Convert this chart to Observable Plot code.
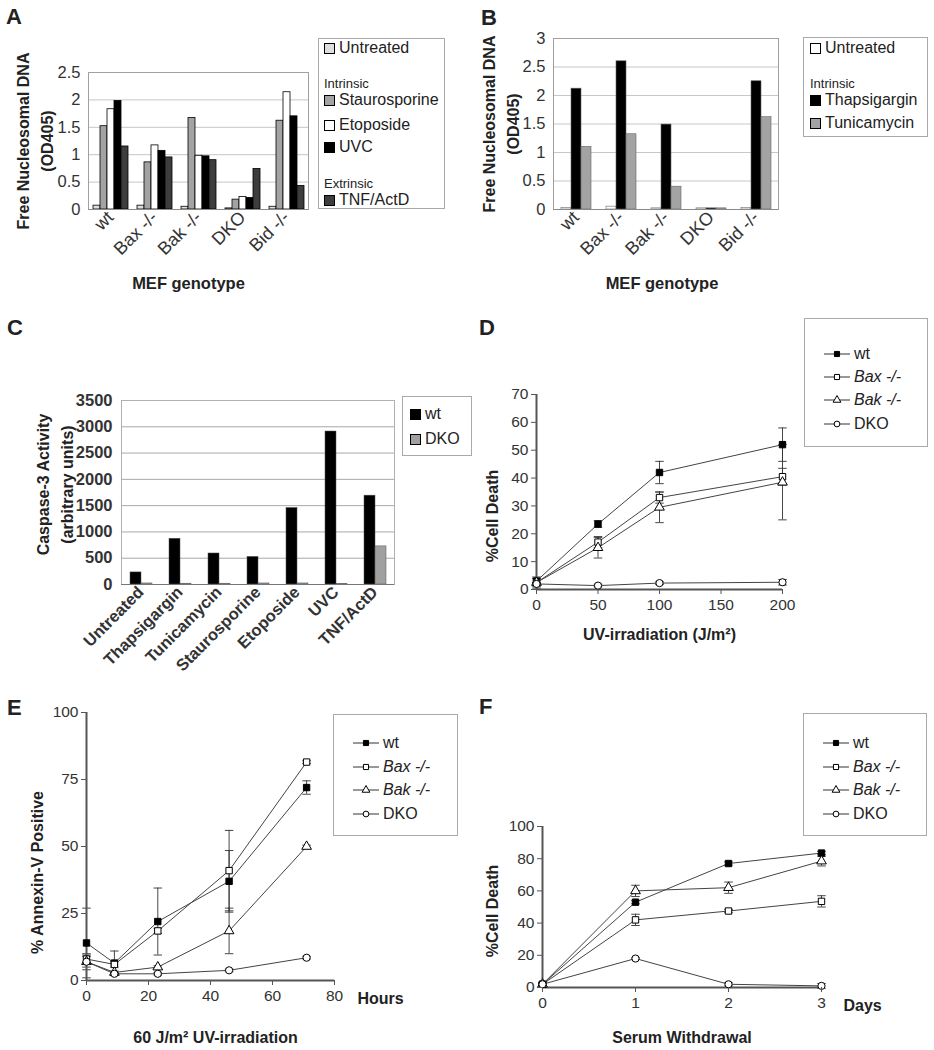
<!DOCTYPE html>
<html><head><meta charset="utf-8">
<script src="https://cdn.jsdelivr.net/npm/d3@7"></script>
<script src="https://cdn.jsdelivr.net/npm/@observablehq/plot@0.6"></script>
<style>
body{margin:0;background:#fff;font-family:"Liberation Sans",Arial,Helvetica,sans-serif;color:#222}
#fig{position:relative;width:934px;height:1050px;overflow:hidden;background:#fff}
.panel{position:absolute}
.panel svg{overflow:visible;background:none !important}
.plabel{position:absolute;font-weight:bold;font-size:22px;line-height:22px}
.legend{position:absolute;border:1px solid #aaa;background:#fff;box-sizing:border-box}
.legend .it{position:absolute;left:0;white-space:nowrap;display:flex;align-items:center;height:20px;font-size:16px}
.legend .hd{font-size:13px}
.legend .sw{display:inline-block;width:9px;height:9px;border:1px solid #000;margin-right:4px}
.legend svg{margin-right:3px}
.it.i{font-style:italic}
#pA g[aria-label="fx-axis tick label"] text:nth-child(2),
#pA g[aria-label="fx-axis tick label"] text:nth-child(3),
#pB g[aria-label="fx-axis tick label"] text:nth-child(2),
#pB g[aria-label="fx-axis tick label"] text:nth-child(3){font-style:italic}
</style>
</head><body>
<div id="fig"></div>
<script>
const FONT = '"Liberation Sans", Arial, Helvetica, sans-serif';

// ---------- Panel A data ----------
const genotypes = ["wt", "Bax -/-", "Bak -/-", "DKO", "Bid -/-"];
const aTreatments = ["Untreated", "Staurosporine", "Etoposide", "UVC", "TNF/ActD"];
const aColors = ["#dedede", "#a3a3a3", "#ffffff", "#000000", "#3d3d3d"];
const aUntreated = [0.07, 0.07, 0.05, 0.02, 0.05];
const aStauro    = [1.52, 0.86, 1.67, 0.18, 1.62];
const aEtop      = [1.83, 1.17, 0.98, 0.23, 2.14];
const aUVC       = [1.98, 1.07, 0.97, 0.21, 1.70];
const aTNF       = [1.15, 0.95, 0.90, 0.74, 0.43];
const aTicks = [0, 0.5, 1, 1.5, 2, 2.5];

// ---------- Panel B data ----------
const bTreatments = ["Untreated", "Thapsigargin", "Tunicamycin"];
const bColors = ["#ffffff", "#000000", "#a3a3a3"];
const bUntreated = [0.03, 0.05, 0.02, 0.02, 0.03];
const bThaps     = [2.12, 2.60, 1.49, 0.02, 2.25];
const bTunic     = [1.10, 1.32, 0.40, 0.02, 1.62];
const bTicks = [0, 0.5, 1, 1.5, 2, 2.5, 3];

// ---------- Panel C data ----------
const cTreatments = ["Untreated", "Thapsigargin", "Tunicamycin", "Staurosporine", "Etoposide", "UVC", "TNF/ActD"];
const cGenos = ["wt", "DKO"];
const cColors = ["#000000", "#a0a0a0"];
const cWt  = [230, 870, 590, 525, 1455, 2910, 1690];
const cDko = [20, 15, 15, 20, 20, 10, 725];
const cTicks = [0, 500, 1000, 1500, 2000, 2500, 3000, 3500];

// ---------- Line panels: series ----------
const lineSeries = ["wt", "Bax -/-", "Bak -/-", "DKO"];
const lineSymbols = ["square", "square", "triangle", "circle"];
const lineFills = ["#000000", "#ffffff", "#ffffff", "#ffffff"];

// Panel D
const dDose = [0, 50, 100, 200];
const dWt  = [3, 23.5, 42, 52];     const dWtErr  = [1, 1.2, 4, 6];
const dBax = [2.5, 17, 33, 40.5];   const dBaxErr = [2, 2, 2, 3];
const dBak = [2.5, 15, 29.5, 38.5]; const dBakErr = [1.5, 3.7, 5.5, 13.5];
const dDko = [2, 1.4, 2.3, 2.6];    const dDkoErr = [0.5, 0.5, 0.5, 1];
const dXTicks = [0, 50, 100, 150, 200];
const dYTicks = [0, 10, 20, 30, 40, 50, 60, 70];

// Panel E
const eHours = [0, 9, 23, 46, 71];
const eWt  = [14, 6.5, 22, 37, 72];   const eWtErr  = [13, 4.5, 12.5, 11.5, 2.5];
const eBax = [8, 6, 18.5, 41, 81.5];  const eBaxErr = [1.5, 1, 1, 15, 0.5];
const eBak = [7, 3, 5, 18.5, 50];     const eBakErr = [2, 0.5, 0.5, 8.5, 0.5];
const eDko = [7, 2.5, 2.5, 3.8, 8.5]; const eDkoErr = [3, 0.5, 0.5, 0.5, 0.5];
const eXTicks = [0, 20, 40, 60, 80];
const eYTicks = [0, 25, 50, 75, 100];

// Panel F
const fDays = [0, 1, 2, 3];
const fWt  = [2, 53, 77, 83.5];  const fWtErr  = [0.5, 1, 1, 1];
const fBax = [2, 42, 47.5, 53.5]; const fBaxErr = [1, 3.5, 1, 3.5];
const fBak = [2, 60, 62, 78.5];  const fBakErr = [1, 3.5, 3.5, 3];
const fDko = [2, 18, 2, 1];      const fDkoErr = [0.5, 0.5, 1, 1.5];
const fXTicks = [0, 1, 2, 3];
const fYTicks = [0, 20, 40, 60, 80, 100];

// ---------- helpers ----------
const fig = document.getElementById("fig");
function place(el, left, top, id) {
  const d = document.createElement("div");
  d.className = "panel"; d.style.left = left + "px"; d.style.top = top + "px";
  if (id) d.id = id;
  d.appendChild(el); fig.appendChild(d);
}
function panelLabel(t, left, top) {
  const d = document.createElement("div");
  d.className = "plabel"; d.textContent = t;
  d.style.left = left + "px"; d.style.top = top + "px";
  fig.appendChild(d);
}
function lineSample(sym, fill) {
  const types = {square: d3.symbolSquare, triangle: d3.symbolTriangle, circle: d3.symbolCircle};
  const s = d3.create("svg").attr("width", 28).attr("height", 12);
  s.append("line").attr("x1", 1).attr("x2", 27).attr("y1", 6).attr("y2", 6).attr("stroke", "#333");
  s.append("path").attr("transform", "translate(14,6)").attr("d", d3.symbol(types[sym], 26)())
    .attr("fill", fill).attr("stroke", "#000");
  return s.node();
}
function legend(left, top, w, h, items) {
  const box = document.createElement("div");
  box.className = "legend";
  Object.assign(box.style, {left: left + "px", top: top + "px", width: w + "px", height: h + "px"});
  for (const it of items) {
    const d = document.createElement("div");
    d.className = "it" + (it.italic ? " i" : "") + (it.head ? " hd" : "");
    d.style.top = (it.y - 10) + "px";
    d.style.left = (it.x ?? 5) + "px";
    if (it.color) {
      const sw = document.createElement("span"); sw.className = "sw"; sw.style.background = it.color;
      d.appendChild(sw);
    }
    if (it.sym) d.appendChild(lineSample(it.sym, it.fill));
    d.appendChild(document.createTextNode(it.label));
    box.appendChild(d);
  }
  fig.appendChild(box);
}
function rows(xs, ys, errs, name) {
  return xs.map((x, i) => ({x, y: ys[i], err: errs[i], series: name}));
}
const capSymbol = {draw(ctx, size) { const w = Math.sqrt(size) * 0.8; ctx.moveTo(-w, 0); ctx.lineTo(w, 0); }};
const titleOpts = {fontWeight: "bold", fontSize: 16, textAnchor: "middle", lineAnchor: "middle", fill: "#222", text: d => d};

function linePlot(cfg) {
  const data = cfg.data;
  return Plot.plot({
    width: cfg.width, height: cfg.height,
    marginLeft: cfg.ml, marginRight: cfg.mr, marginTop: cfg.mt, marginBottom: cfg.mb,
    style: {fontFamily: FONT, fontSize: "15px", color: "#333", background: "none"},
    x: {domain: cfg.xDomain},
    y: {domain: cfg.yDomain},
    color: {domain: lineSeries, range: lineFills},
    symbol: {domain: lineSeries, range: lineSymbols},
    marks: [
      Plot.ruleX(data, {x: "x", y1: d => d.y - d.err, y2: d => d.y + d.err, stroke: "#333", strokeWidth: 0.9}),
      Plot.dot(data, {x: "x", y: d => d.y + d.err, symbol: () => capSymbol, r: 3, stroke: "#333", strokeWidth: 0.9}),
      Plot.dot(data, {x: "x", y: d => d.y - d.err, symbol: () => capSymbol, r: 3, stroke: "#333", strokeWidth: 0.9}),
      Plot.line(data, {x: "x", y: "y", z: "series", stroke: "#444", strokeWidth: 1}),
      Plot.ruleY([cfg.yDomain[0]], {stroke: "#555", strokeWidth: 2}),
      Plot.ruleX([cfg.xDomain[0]], {stroke: "#555", strokeWidth: 2}),
      Plot.dot(data, {x: "x", y: "y", symbol: "series", fill: "series", stroke: "#000", strokeWidth: 1, r: 3.6}),
      Plot.axisX(cfg.xTicks, {tickSize: 5, tickPadding: 4, stroke: "#555", label: null, fontSize: 15.5}),
      Plot.axisY(cfg.yTicks, {tickSize: 5, tickPadding: 3, stroke: "#555", label: null, fontSize: 15.5}),
      Plot.text([cfg.yTitle], {...titleOpts, frameAnchor: "left", dx: cfg.ytDx, dy: cfg.ytDy, rotate: -90}),
      Plot.text([cfg.xTitle], {...titleOpts, frameAnchor: "bottom", dx: cfg.xtDx, dy: cfg.xtDy}),
      ...(cfg.unit ? [Plot.text([cfg.unit], {...titleOpts, frameAnchor: "bottom-right", dx: cfg.uDx, dy: cfg.uDy, textAnchor: "start"})] : [])
    ]
  });
}

// ---------- Panel A ----------
const aSeries = [aUntreated, aStauro, aEtop, aUVC, aTNF];
const aData = genotypes.flatMap((g, i) => aTreatments.map((t, j) => ({genotype: g, treatment: t, value: aSeries[j][i]})));
place(Plot.plot({
  width: 318, height: 300, marginLeft: 88, marginRight: 10, marginTop: 72, marginBottom: 91,
  style: {fontFamily: FONT, fontSize: "15px", color: "#333", background: "none"},
  fx: {domain: genotypes, padding: 0, label: null},
  x: {domain: aTreatments, paddingOuter: 0.5, paddingInner: 0, axis: null},
  y: {domain: [0, 2.5]},
  color: {domain: aTreatments, range: aColors},
  marks: [
    Plot.gridY(aTicks, {stroke: "#c6c6c6", strokeOpacity: 1}),
    Plot.frame({stroke: "#a0a0a0", facet: "super"}),
    Plot.barY(aData, {fx: "genotype", x: "treatment", y: "value", fill: "treatment", stroke: "#000", strokeWidth: 0.8}),
    Plot.ruleY([0], {stroke: "#8a8a8a"}),
    Plot.axisY(aTicks, {tickSize: 0, tickPadding: 8, tickFormat: d => String(d), label: null, fontSize: 16.5}),
    Plot.axisFx({anchor: "bottom", tickRotate: -45, tickSize: 0, tickPadding: 5, label: null, fontSize: 18}),
    Plot.text(["Free Nucleosomal DNA\n(OD405)"], {...titleOpts, facet: "super", frameAnchor: "left", dx: -55, rotate: -90, lineHeight: 1.45, fontSize: 16}),
    Plot.text(["MEF genotype"], {...titleOpts, facet: "super", frameAnchor: "bottom", dx: -10, dy: 74, fontSize: 16.5})
  ]
}), 0, 0, "pA");
legend(318, 38, 127, 171, [
  {y: 9, label: "Untreated", color: aColors[0]},
  {y: 44, label: "Intrinsic", head: true},
  {y: 61, label: "Staurosporine", color: aColors[1]},
  {y: 86, label: "Etoposide", color: aColors[2]},
  {y: 108, label: "UVC", color: aColors[3]},
  {y: 144, label: "Extrinsic", head: true},
  {y: 161, label: "TNF/ActD", color: aColors[4]}
]);

// ---------- Panel B ----------
const bSeries = [bUntreated, bThaps, bTunic];
const bData = genotypes.flatMap((g, i) => bTreatments.map((t, j) => ({genotype: g, treatment: t, value: bSeries[j][i]})));
place(Plot.plot({
  width: 330, height: 300, marginLeft: 82, marginRight: 22, marginTop: 38, marginBottom: 91,
  style: {fontFamily: FONT, fontSize: "15px", color: "#333", background: "none"},
  fx: {domain: genotypes, padding: 0, label: null},
  x: {domain: bTreatments, paddingOuter: 0.65, paddingInner: 0, axis: null},
  y: {domain: [0, 3]},
  color: {domain: bTreatments, range: bColors},
  marks: [
    Plot.gridY(bTicks, {stroke: "#c6c6c6", strokeOpacity: 1}),
    Plot.frame({stroke: "#a0a0a0", facet: "super"}),
    Plot.barY(bData, {fx: "genotype", x: "treatment", y: "value", fill: "treatment", stroke: "#666", strokeWidth: 0.6}),
    Plot.ruleY([0], {stroke: "#8a8a8a"}),
    Plot.axisY(bTicks, {tickSize: 0, tickPadding: 8, tickFormat: d => String(d), label: null, fontSize: 16.5}),
    Plot.axisFx({anchor: "bottom", tickRotate: -45, tickSize: 0, tickPadding: 5, label: null, fontSize: 18}),
    Plot.text(["Free Nucleosomal DNA\n(OD405)"], {...titleOpts, facet: "super", frameAnchor: "left", dx: -54, rotate: -90, lineHeight: 1.45, fontSize: 16}),
    Plot.text(["MEF genotype"], {...titleOpts, facet: "super", frameAnchor: "bottom", dx: -4, dy: 74, fontSize: 16.5})
  ]
}), 470, 0, "pB");
legend(803, 37, 125, 100, [
  {y: 10, label: "Untreated", color: bColors[0], x: 6},
  {y: 45, label: "Intrinsic", head: true, x: 6},
  {y: 62, label: "Thapsigargin", color: bColors[1], x: 6},
  {y: 85, label: "Tunicamycin", color: bColors[2], x: 6}
]);

// ---------- Panel C ----------
const cSeries = [cWt, cDko];
const cData = cTreatments.flatMap((t, i) => cGenos.map((g, j) => ({treatment: t, geno: g, value: cSeries[j][i]})));
place(Plot.plot({
  width: 400, height: 380, marginLeft: 118, marginRight: 3, marginTop: 70, marginBottom: 126,
  style: {fontFamily: FONT, fontSize: "15px", color: "#333", background: "none"},
  fx: {domain: cTreatments, padding: 0, label: null},
  x: {domain: cGenos, paddingOuter: 0.72, paddingInner: 0, axis: null},
  y: {domain: [0, 3500]},
  color: {domain: cGenos, range: cColors},
  marks: [
    Plot.gridY(cTicks, {stroke: "#a8a8a8", strokeOpacity: 1}),
    Plot.frame({stroke: "#b0b0b0", facet: "super"}),
    Plot.barY(cData, {fx: "treatment", x: "geno", y: "value", fill: "geno", stroke: "#555", strokeWidth: 0.5}),
    Plot.ruleY([0], {stroke: "#777"}),
    Plot.axisY(cTicks, {tickSize: 0, tickPadding: 9, tickFormat: d => String(d), label: null, fontSize: 16.5, fontWeight: "bold"}),
    Plot.axisFx({anchor: "bottom", tickRotate: -45, tickSize: 0, tickPadding: 5, label: null, fontSize: 16.5, fontWeight: "bold"}),
    Plot.text(["Caspase-3 Activity\n(arbitrary units)"], {...titleOpts, facet: "super", frameAnchor: "left", dx: -68, dy: -8, rotate: -90, lineHeight: 1.45, fontSize: 16})
  ]
}), 0, 330, "pC");
legend(402, 396, 70, 60, [
  {y: 17, label: "wt", color: cColors[0], x: 7},
  {y: 42, label: "DKO", color: cColors[1], x: 7}
]);

// ---------- Panel D ----------
const dData = [
  ...rows(dDose, dWt, dWtErr, "wt"), ...rows(dDose, dBax, dBaxErr, "Bax -/-"),
  ...rows(dDose, dBak, dBakErr, "Bak -/-"), ...rows(dDose, dDko, dDkoErr, "DKO")
];
place(linePlot({
  data: dData, width: 330, height: 320, ml: 66, mr: 18, mt: 64, mb: 61,
  xDomain: [0, 200], yDomain: [0, 70], xTicks: dXTicks, yTicks: dYTicks,
  yTitle: "%Cell Death", ytDx: -44, ytDy: 24,
  xTitle: "UV-irradiation (J/m²)", xtDx: 0, xtDy: 45
}), 470, 330, "pD");
const lineLegendItems = (ys) => lineSeries.map((s, i) => ({y: ys[i], label: s, sym: lineSymbols[i], fill: lineFills[i], italic: i === 1 || i === 2, x: 18}));
legend(804, 318, 124, 129, lineLegendItems([35, 58, 81, 105]));

// ---------- Panel E ----------
const eData = [
  ...rows(eHours, eWt, eWtErr, "wt"), ...rows(eHours, eBax, eBaxErr, "Bax -/-"),
  ...rows(eHours, eBak, eBakErr, "Bak -/-"), ...rows(eHours, eDko, eDkoErr, "DKO")
];
place(linePlot({
  data: eData, width: 470, height: 390, ml: 86, mr: 136, mt: 52, mb: 70,
  xDomain: [0, 80], yDomain: [0, 100], xTicks: eXTicks, yTicks: eYTicks,
  yTitle: "% Annexin-V Positive", ytDx: -49, ytDy: 26,
  xTitle: "60 J/m² UV-irradiation", xtDx: 5, xtDy: 57,
  unit: "Hours", uDx: 23, uDy: 18
}), 0, 660, "pE");
legend(333, 714, 125, 122, lineLegendItems([28, 52, 75, 99]));

// ---------- Panel F ----------
const fData = [
  ...rows(fDays, fWt, fWtErr, "wt"), ...rows(fDays, fBax, fBaxErr, "Bax -/-"),
  ...rows(fDays, fBak, fBakErr, "Bak -/-"), ...rows(fDays, fDko, fDkoErr, "DKO")
];
place(linePlot({
  data: fData, width: 430, height: 390, ml: 72, mr: 79, mt: 166, mb: 63,
  xDomain: [0, 3], yDomain: [0, 100], xTicks: fXTicks, yTicks: fYTicks,
  yTitle: "%Cell Death", ytDx: -50, ytDy: 4,
  xTitle: "Serum Withdrawal", xtDx: 0, xtDy: 50,
  unit: "Days", uDx: 22, uDy: 18
}), 470, 660, "pF");
legend(803, 713, 124, 123, lineLegendItems([29, 53, 76, 100]));

// ---------- Panel letters ----------
panelLabel("A", 6, 6);
panelLabel("B", 481, 7);
panelLabel("C", 7, 317);
panelLabel("D", 479, 317);
panelLabel("E", 7, 697);
panelLabel("F", 479, 696);
</script>
</body></html>
